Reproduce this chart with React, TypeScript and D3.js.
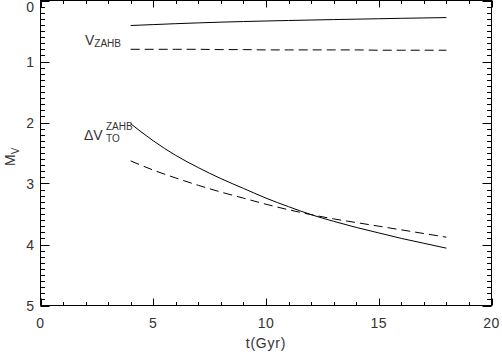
import React from 'react';
import * as d3 from 'd3';

// ages (Gyr) and magnitudes
const ages = [4, 5, 6, 7, 8, 9, 10, 11, 12, 13, 14, 15, 16, 17, 18];
const vZahbSolid = [0.41, 0.395, 0.38, 0.367, 0.355, 0.345, 0.336, 0.328, 0.32, 0.313, 0.306, 0.299, 0.292, 0.286, 0.28];
const vZahbDashed = [0.80, 0.80, 0.80, 0.80, 0.805, 0.805, 0.81, 0.81, 0.81, 0.81, 0.81, 0.815, 0.815, 0.815, 0.815];
const dVSolid = [2.02, 2.3, 2.54, 2.74, 2.92, 3.08, 3.24, 3.38, 3.51, 3.62, 3.72, 3.81, 3.9, 3.98, 4.06];
const dVDashed = [2.63, 2.78, 2.91, 3.03, 3.14, 3.24, 3.34, 3.43, 3.51, 3.58, 3.64, 3.7, 3.76, 3.82, 3.88];

const xTicks = [0, 5, 10, 15, 20];
const yTicks = [0, 1, 2, 3, 4, 5];

const W = 502;
const H = 354;
const FONT = '"Liberation Sans", Arial, sans-serif';
const INK = '#333';

export default function App() {
  const x = d3.scaleLinear().domain([0, 20]).range([40.5, 491.5]);
  const y = d3.scaleLinear().domain([0, 5]).range([0.5, 305.5]);
  const [x0, x1] = x.range();
  const [y0, y1] = y.range();

  const line = d3.line<number>()
    .x((_, i) => x(ages[i]))
    .y(d => y(d))
    .curve(d3.curveMonotoneX);

  const xMinor = d3.range(0, 21, 1);
  const yMinor = d3.range(0, 50.5, 1).map(v => v / 10);

  return (
    <svg width={W} height={H} style={{ position: 'absolute', left: 0, top: 0, background: '#fff' }}
      fontFamily={FONT}>
      {/* frame */}
      <rect x={x0} y={y0} width={x1 - x0} height={y1 - y0} fill="none" stroke="#000" strokeWidth={1} />

      {/* x ticks, bottom and top */}
      {xMinor.map(t => {
        const len = t % 5 === 0 ? 7 : 3.5;
        const px = Math.round(x(t)) + 0.5;
        return (
          <g key={'xt' + t} stroke="#000" strokeWidth={1}>
            <line x1={px} x2={px} y1={y1} y2={y1 - len} />
            <line x1={px} x2={px} y1={y0} y2={y0 + len} />
          </g>
        );
      })}
      {/* y ticks, left and right */}
      {yMinor.map((v, i) => {
        const len = i % 10 === 0 ? 9 : 4.5;
        const py = Math.round(y(v)) + 0.5;
        return (
          <g key={'yt' + i} stroke="#000" strokeWidth={1}>
            <line x1={x0} x2={x0 + len} y1={py} y2={py} />
            <line x1={x1} x2={x1 - len} y1={py} y2={py} />
          </g>
        );
      })}

      {xTicks.map(t => (
        <text key={'xl' + t} x={x(t)} y={328} textAnchor="middle" fontSize={14} fill={INK} letterSpacing={0.5}>{t}</text>
      ))}
      {yTicks.map(v => (
        <text key={'yl' + v} x={34} y={Math.max(y(v) + 5, 12)} textAnchor="end" fontSize={14} fill={INK}>{v}</text>
      ))}

      <text x={(x0 + x1) / 2} y={348} textAnchor="middle" fontSize={14} fill={INK} letterSpacing={0.8}>t(Gyr)</text>
      <text transform={`translate(15,166) rotate(-90)`} fontSize={14} fill={INK}>
        M<tspan fontSize={10} dy={4}>V</tspan>
      </text>

      {/* curves */}
      <path d={line(vZahbSolid) || ''} fill="none" stroke="#000" strokeWidth={1} />
      <path d={line(vZahbDashed) || ''} fill="none" stroke="#000" strokeWidth={1} strokeDasharray="9,5" />
      <path d={line(dVSolid) || ''} fill="none" stroke="#000" strokeWidth={1} />
      <path d={line(dVDashed) || ''} fill="none" stroke="#000" strokeWidth={1} strokeDasharray="9,5" />

      {/* labels */}
      <text x={85} y={45} fontSize={14} fill={INK}>
        V<tspan fontSize={10} dy={2}>ZAHB</tspan>
      </text>
      <text x={84} y={140} fontSize={14} fill={INK}>ΔV</text>
      <text x={106} y={130} fontSize={10} fill={INK}>ZAHB</text>
      <text x={106} y={142} fontSize={10} fill={INK}>TO</text>
    </svg>
  );
}
